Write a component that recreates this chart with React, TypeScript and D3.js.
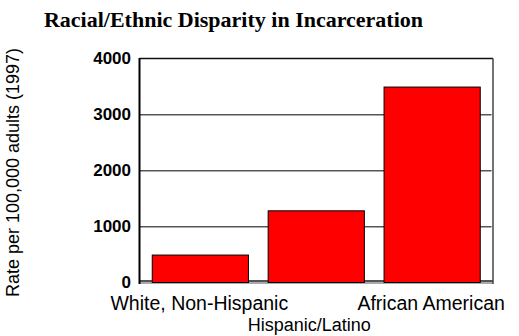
import React from "react";
import * as d3 from "d3";

const categories = ["White, Non-Hispanic", "Hispanic/Latino", "African American"];
const values = [490, 1280, 3490];
const yTicks = [0, 1000, 2000, 3000, 4000];
const title = "Racial/Ethnic Disparity in Incarceration";
const yTitle = "Rate per 100,000 adults (1997)";

export default function App() {
  const W = 519, H = 336;
  const left = 139.5, right = 493, top = 58.5, bottom = 282.5;
  const x = d3.scaleBand<string>().domain(categories).range([left, right]).paddingInner(0.17).paddingOuter(0.11);
  const y = d3.scaleLinear().domain([0, 4000]).range([bottom, top]);
  const labelRows = [0, 1, 0];
  return (
    <svg width={W} height={H} style={{ position: "absolute", left: 0, top: 0, background: "#fff" }}>
      <text x={233.5} y={26.5} textAnchor="middle" fontFamily="Liberation Serif, Times New Roman, serif" fontWeight="bold" fontSize={22}>{title}</text>
      <text transform={`translate(19,172.5) rotate(-90)`} textAnchor="middle" fontFamily="Liberation Sans, Arial, sans-serif" fontSize={18}>{yTitle}</text>
      {yTicks.filter(t => t > 0 && t < 4000).map(t => (
        <g key={t}>
          <line x1={left} x2={right - 1.5} y1={y(t)} y2={y(t)} stroke="#555" strokeWidth={1} />
          <line x1={left} x2={right - 1.5} y1={y(t) + 1} y2={y(t) + 1} stroke="#aaa" strokeWidth={1} />
        </g>
      ))}
      <rect x={left} y={bottom - 2.5} width={right - left} height={2} fill="#555" />
      <rect x={left} y={bottom - 0.5} width={right - left} height={2} fill="#aaa" />
      <line x1={left} x2={right} y1={top} y2={top} stroke="#111" strokeWidth={1.5} />
      <line x1={right} x2={right} y1={top} y2={bottom + 1.5} stroke="#444" strokeWidth={1.5} />
      <line x1={left} x2={left} y1={top - 0.5} y2={bottom + 1.5} stroke="#000" strokeWidth={2} />
      {categories.map((c, i) => (
        <rect key={c} x={x(c)!} y={y(values[i])} width={x.bandwidth()} height={bottom - y(values[i])} fill="#ff0000" stroke="#000" strokeWidth={1} />
      ))}
      {yTicks.map(t => (
        <text key={t} x={131} y={y(t) + 5.5} textAnchor="end" fontFamily="Liberation Sans, Arial, sans-serif" fontWeight="bold" fontSize={17}>{t}</text>
      ))}
      {categories.map((c, i) => (
        <text key={c} x={x(c)! + x.bandwidth() / 2 - (labelRows[i] ? 7 : 1)} y={labelRows[i] ? 330.5 : 310} textAnchor="middle" fontFamily="Liberation Sans, Arial, sans-serif" fontSize={labelRows[i] ? 18 : 19.5}>{c}</text>
      ))}
    </svg>
  );
}
